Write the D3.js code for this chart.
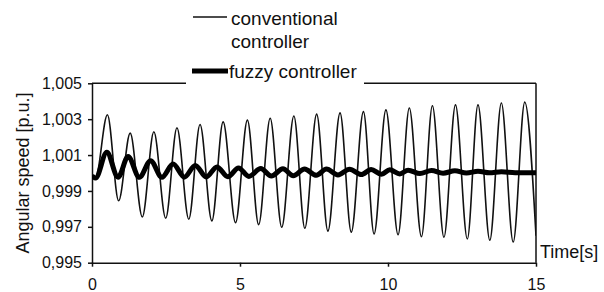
<!DOCTYPE html>
<html>
<head>
<meta charset="utf-8">
<script src="https://cdn.jsdelivr.net/npm/d3@7/dist/d3.min.js"></script>
<style>
  html, body { margin: 0; padding: 0; background: #fff; }
  svg { display: block; }
  text { font-family: "Liberation Sans", Arial, Helvetica, sans-serif; fill: #111; }
</style>
</head>
<body>
<svg id="chart" width="604" height="292"></svg>
<script>
// ---- data ----
const convT = [0, 0.12, 0.52, 0.90, 1.29, 1.70, 2.09, 2.49, 2.87, 3.27, 3.65, 4.05, 4.43, 4.85,
  5.25, 5.63, 6.02, 6.41, 6.82, 7.19, 7.59, 7.97, 8.38, 8.76, 9.17, 9.53, 9.93, 10.34,
  10.72, 11.13, 11.50, 11.89, 12.28, 12.68, 13.04, 13.44, 13.83, 14.23, 14.62, 15];
const convV = [0.99985, 0.99972, 1.00325, 0.99845, 1.00222, 0.99755, 1.00230, 0.99748, 1.00252, 0.99742,
  1.00270, 0.99733, 1.00285, 0.99723, 1.00295, 0.99712, 1.00305, 0.99698, 1.00318, 0.99692,
  1.00328, 0.99676, 1.00335, 0.99670, 1.00342, 0.99660, 1.00352, 0.99656, 1.00362, 0.99645,
  1.00375, 0.99642, 1.00380, 0.99632, 1.00380, 0.99625, 1.00390, 0.99615, 1.00395, 0.99650];

const fuzzyT = [0, 0.12, 0.50, 0.88, 1.22, 1.60, 1.98, 2.36, 2.74, 3.12, 3.49, 3.86, 4.22, 4.59,
  4.95, 5.30, 5.70, 6.06, 6.45, 6.80, 7.18, 7.58, 7.92, 8.31, 8.70, 9.10, 9.43, 9.78,
  10.06, 10.40, 10.68, 11.08, 11.47, 11.86, 12.26, 12.65, 13.04, 13.43, 13.83, 14.30, 15];
const fuzzyV = [0.99985, 0.99972, 1.00115, 0.99976, 1.00092, 0.99976, 1.00068, 0.99976, 1.00050, 0.99977,
  1.00042, 0.99978, 1.00034, 0.99979, 1.00028, 0.99981, 1.00025, 0.99983, 1.00024, 0.99985,
  1.00022, 0.99987, 1.00022, 0.99989, 1.00021, 0.99991, 1.00020, 0.99993, 1.00018, 0.99995,
  1.00016, 0.99997, 1.00014, 0.99999, 1.00012, 1.00000, 1.00010, 1.00001, 1.00007, 1.00002, 1.00002];

const yTicks = [0.995, 0.997, 0.999, 1.001, 1.003, 1.005];
const yTickLabels = ["0,995", "0,997", "0,999", "1,001", "1,003", "1,005"];
const xTicks = [0, 5, 10, 15];
const xTickLabels = ["0", "5", "10", "15"];
const seriesNames = ["conventional", "controller", "fuzzy controller"];
const yTitle = "Angular speed [p.u.]";
const xTitle = "Time[s]";

// ---- layout ----
const svg = d3.select("#chart");
const L = 92, R = 536, T = 83.3, B = 262.7;

const x = d3.scaleLinear().domain([0, 15]).range([L, R]);
const y = d3.scaleLinear().domain([0.995, 1.005]).range([B, T]);

// plot frame (right + top)
svg.append("line").attr("x1", R).attr("x2", R).attr("y1", T).attr("y2", B)
  .attr("stroke", "#111").attr("stroke-width", 1.5);
svg.append("line").attr("x1", L).attr("x2", R).attr("y1", T).attr("y2", T)
  .attr("stroke", "#111").attr("stroke-width", 1.5);

// axes
const yAxis = d3.axisLeft(y).tickValues(yTicks)
  .tickFormat((d, i) => yTickLabels[i]).tickSizeInner(4).tickSizeOuter(0).tickPadding(6);
const gy = svg.append("g").attr("transform", `translate(${L},0)`).call(yAxis);

const xAxis = d3.axisBottom(x).tickValues(xTicks)
  .tickFormat((d, i) => xTickLabels[i]).tickSizeInner(4).tickSizeOuter(0).tickPadding(12);
const gx = svg.append("g").attr("transform", `translate(0,${B})`).call(xAxis);

[gx, gy].forEach(g => {
  g.select(".domain").attr("stroke", "#111").attr("stroke-width", 1.5);
  g.selectAll(".tick line").attr("stroke", "#111").attr("stroke-width", 1.5);
  g.selectAll(".tick text").attr("font-size", 16)
    .attr("font-family", '"Liberation Sans", Arial, sans-serif').attr("fill", "#111");
});

// lines
svg.append("clipPath").attr("id", "clip").append("rect")
  .attr("x", L).attr("y", T - 5).attr("width", R - L).attr("height", B - T + 10);

const line = d3.line().x(d => x(d[0])).y(d => y(d[1])).curve(d3.curveMonotoneX);
const convData = convT.map((t, i) => [t, convV[i]]);
const fuzzyData = fuzzyT.map((t, i) => [t, fuzzyV[i]]);

svg.append("path").datum(convData).attr("d", line)
  .attr("fill", "none").attr("stroke", "#111").attr("stroke-width", 1.6)
  .attr("clip-path", "url(#clip)");
svg.append("path").datum(fuzzyData).attr("d", line)
  .attr("fill", "none").attr("stroke", "#000").attr("stroke-width", 5)
  .attr("stroke-linejoin", "round").attr("clip-path", "url(#clip)");

// legend (white box interrupts top frame)
svg.append("rect").attr("x", 186).attr("y", 60).attr("width", 178).attr("height", 28).attr("fill", "#fff");
svg.append("line").attr("x1", 193).attr("x2", 227).attr("y1", 17).attr("y2", 17)
  .attr("stroke", "#111").attr("stroke-width", 1.3);
svg.append("text").attr("x", 231).attr("y", 25).attr("font-size", 19).text(seriesNames[0]);
svg.append("text").attr("x", 231).attr("y", 48).attr("font-size", 19).text(seriesNames[1]);
svg.append("line").attr("x1", 192).attr("x2", 228).attr("y1", 71).attr("y2", 71)
  .attr("stroke", "#000").attr("stroke-width", 5);
svg.append("text").attr("x", 229).attr("y", 78).attr("font-size", 19).text(seriesNames[2]);

// titles
svg.append("text").attr("transform", `translate(29,${(T + B) / 2}) rotate(-90)`)
  .attr("text-anchor", "middle").attr("font-size", 18).text(yTitle);
svg.append("text").attr("x", 540).attr("y", 258).attr("font-size", 18).text(xTitle);
</script>
</body>
</html>
